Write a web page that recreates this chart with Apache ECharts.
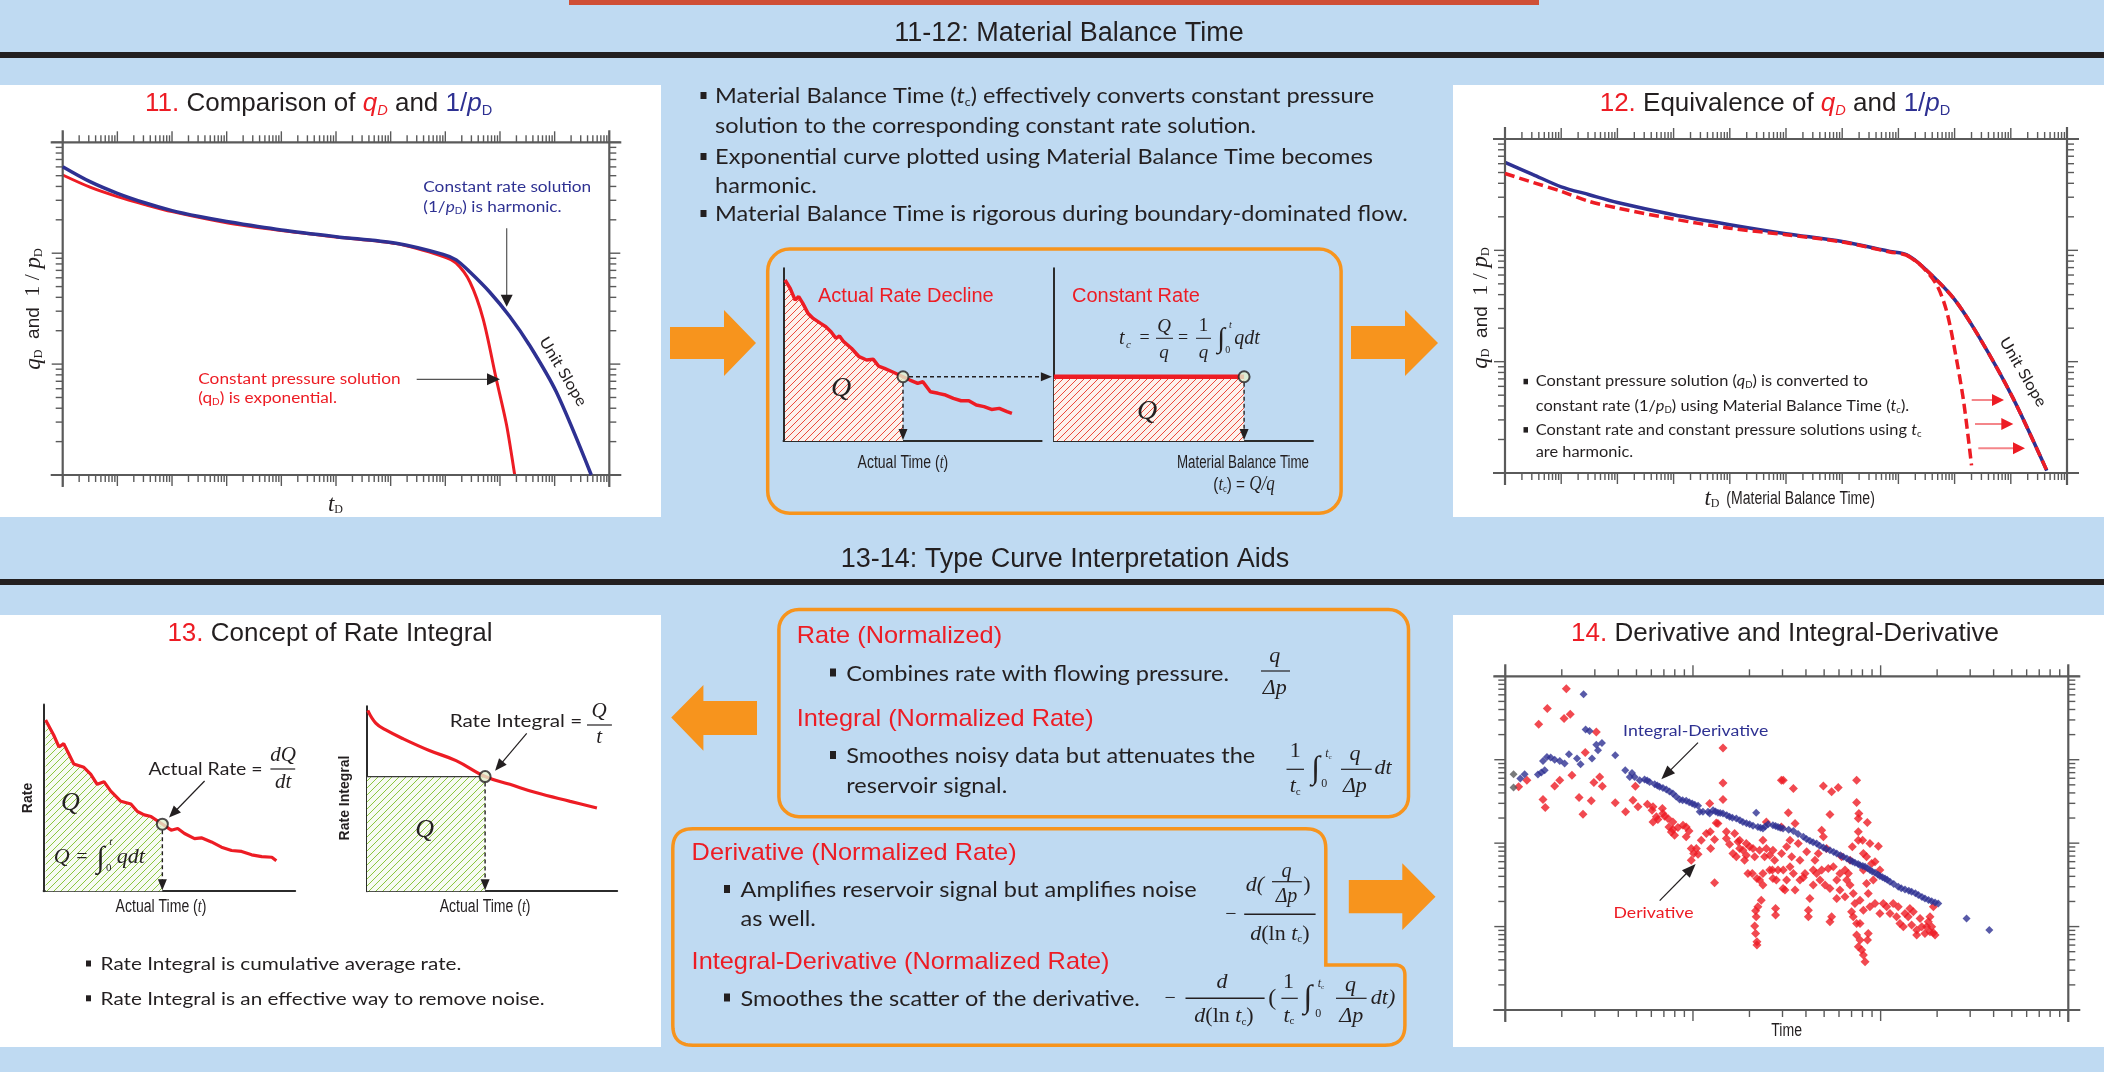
<!DOCTYPE html>
<html>
<head>
<meta charset="utf-8">
<title>Material Balance Time / Type Curve Interpretation Aids</title>
<script src="https://cdn.jsdelivr.net/npm/echarts@6/dist/echarts.min.js"></script>
<style>
html,body{margin:0;padding:0;background:#bfdaf2;overflow:hidden;}
#chart{width:2104px;height:1072px;}
</style>
</head>
<body>
<div id="chart"></div>
<script>
// ================= DATA =================
// 11. Comparison of qD and 1/pD (log-log; tD 1e-2..1e8, y 1e-3..1)
const p11RateT = [0.01,0.0316,0.1,0.316,1,3.16,10,100,1000,12600,91200,158000,282000,646000,1.51e6,3.47e6,1.07e7,4.68e7];
const p11RateY = [0.603,0.442,0.347,0.285,0.242,0.214,0.193,0.162,0.141,0.123,0.0977,0.0871,0.0676,0.0447,0.0269,0.0148,0.00562,0.001];
const p11PresT = [0.01,0.0316,0.1,0.316,1,10,100,1000,12600,91200,158000,282000,490000,851000,1.32e6,1.86e6];
const p11PresY = [0.507,0.394,0.324,0.275,0.237,0.188,0.160,0.140,0.122,0.0933,0.0813,0.055,0.0257,0.00741,0.00282,0.001];
// 12. Equivalence of qD and 1/pD
const p12RateT = [0.01,0.0316,0.1,0.316,1,10,100,1000,1e4,70800,141000,275000,955000,2.82e6,1.1e7,4.37e7];
const p12RateY = [0.617,0.479,0.372,0.316,0.269,0.209,0.170,0.141,0.120,0.0977,0.0912,0.0708,0.0372,0.0162,0.00468,0.00105];
const p12TcT   = [0.01,0.0316,0.1,0.316,1,10,100,1000,1e4,70800,141000,275000,955000,2.82e6,1.1e7,4.37e7];
const p12TcY   = [0.490,0.407,0.339,0.275,0.240,0.191,0.158,0.138,0.119,0.0966,0.0902,0.0708,0.0372,0.0162,0.00468,0.00105];
const p12ExpT  = [141000,245000,479000,724000,1.02e6,1.45e6,2.0e6];
const p12ExpY  = [0.0902,0.0741,0.049,0.0282,0.0123,0.00437,0.00117];
// 14. Derivative / Integral-Derivative, pairs of [log10(time), log10(value)]
const p14Derivative = [
[0.325,0.852],[0.224,0.613],[0.178,0.425],[0.313,0.493],[0.346,0.545],[0.071,-0.325],[0.115,-0.246],[0.263,-0.314],[0.290,-0.246],[0.201,-0.477],
[0.213,-0.573],[0.355,-0.186],[0.393,-0.453],[0.414,-0.653],[0.426,0.086],[0.458,-0.493],[0.472,-0.274],[0.503,-0.206],[0.517,-0.317],[0.485,0.333],
[0.586,-0.517],[0.641,-0.625],[0.680,-0.485],[0.693,-0.317],[0.757,-0.533],[0.782,-0.605],[0.805,-0.685],[0.837,-0.585],[0.849,-0.677],[0.867,-0.705],
[0.813,-0.717],[0.872,-0.805],[0.893,-0.837],[0.920,-0.813],[0.902,-0.904],[0.947,-0.785],[0.979,-0.853],[0.991,-1.064],[1.018,-1.064],[1.004,-1.124],
[1.027,-1.132],[0.991,-1.204],[1.092,-0.864],[1.115,-0.956],[1.124,-0.757],[1.094,-1.064],[1.115,-1.475],[1.160,0.142],[1.160,-0.278],[1.160,-0.477],
[1.133,-0.765],[1.178,-0.944],[1.195,-1.012],[1.222,-0.884],[1.240,-0.984],[1.249,-1.064],[1.266,-1.084],[1.284,-1.144],[1.302,-1.044],[1.329,-1.164],
[1.316,-1.363],[1.341,-1.423],[1.373,-1.503],[1.355,-1.084],[1.391,-1.064],[1.409,-1.144],[1.435,-1.204],[1.444,-1.443],[1.440,-1.783],[1.440,-1.862],
[1.364,-1.683],[1.346,-1.763],[1.334,-1.811],[1.337,-1.882],[1.329,-1.994],[1.334,-2.082],[1.341,-2.182],[1.341,-2.222],[1.471,-0.246],[1.480,-1.543],
[1.471,-0.805],[1.391,-0.745],[1.373,-0.964],[1.423,-1.323],[1.089,-0.525],[0.707,-0.565],[0.787,-0.745],[0.885,-0.865],[0.964,-0.924],[1.231,-1.164],
[1.275,-1.204],[1.426,-1.084],[1.453,-1.323],[1.373,-1.363],[1.293,-1.363],
[1.284,-1.004],[1.320,-1.064],[1.382,-1.164],[1.409,-1.323],[1.426,-1.423],[1.355,-1.443],[1.249,-0.964],[1.213,-1.124],[1.178,-0.864],[1.071,-0.884],
[1.044,-0.964],[0.964,-0.805],[0.893,-0.745],[0.840,-0.645],[0.787,-0.565],
[1.481,-0.246],[1.535,-0.345],[1.508,-0.637],[1.544,-0.765],[1.695,-0.314],[1.739,-0.385],[1.774,-0.333],[1.872,-0.246],[1.872,-0.513],[1.884,-0.645],
[1.881,-0.705],[1.929,-0.753],[1.904,-0.964],[1.881,-0.864],[1.988,-1.036],[1.849,-1.044],[1.730,-0.657],[1.686,-0.845],[1.695,-0.924],[1.712,-1.064],
[1.606,-1.104],[1.499,-1.044],[1.526,-1.164],[1.481,-1.323],[1.499,-1.443],[1.544,-1.563],[1.490,-1.563],[1.588,-1.411],[1.623,-1.663],[1.615,-1.803],
[1.615,-1.882],[1.641,-1.503],[1.659,-1.363],[1.677,-1.443],[1.721,-1.303],[1.748,-1.284],[1.730,-1.543],[1.766,-1.443],[1.766,-1.663],[1.739,-1.882],
[1.730,-1.942],[1.783,-1.363],[1.819,-1.443],[1.837,-1.503],[1.854,-1.603],[1.863,-1.723],[1.845,-1.823],[1.854,-1.882],[1.872,-1.962],[1.872,-2.102],
[1.890,-2.162],[1.899,-2.282],[1.908,-2.342],[1.917,-2.422],[1.934,-2.082],[1.943,-1.763],[1.970,-1.723],[1.996,-1.843],[2.014,-1.723],[2.032,-1.763],
[2.050,-1.843],[2.094,-1.763],[2.103,-1.962],[2.130,-1.843],[2.156,-1.783],[2.165,-1.982],[2.192,-2.042],[2.192,-2.102],[2.210,-1.902],[2.245,-2.002],
[2.263,-2.062],[2.281,-2.074],[2.263,-1.882],[2.281,-1.763],[1.890,-1.683],[1.934,-1.603],[1.961,-1.443],[1.908,-1.323],[1.925,-1.164],[1.952,-1.244],
[1.837,-1.204],[1.570,-1.443],[1.535,-1.363],[1.641,-1.323],
[1.517,-0.964],[1.561,-1.004],[1.472,-1.124],[1.517,-1.284],[1.570,-1.204],[1.597,-1.363],[1.650,-1.204],[1.668,-1.124],[1.686,-1.323],[1.704,-1.503],
[1.792,-1.164],[1.810,-1.323],[1.828,-1.363],[1.783,-1.563],[1.810,-1.643],[1.881,-0.964],[1.908,-1.124],[1.943,-1.004],[1.970,-1.224],[1.996,-1.323],
[1.925,-1.483],[1.908,-1.803],[1.890,-1.962],[1.930,-2.162],[1.881,-2.242],[2.067,-1.723],[2.085,-1.882],[2.121,-2.002],[2.147,-1.882],[2.174,-1.823],
[2.219,-2.002],[2.236,-2.082],[2.272,-2.002],[2.290,-2.102],[2.254,-1.942]
];
const p14IntegralDerivative = [
[0.417,0.784],[0.428,0.361],[0.449,0.345],[0.485,0.181],[0.515,0.201],[0.494,0.114],[0.462,0.014],[0.401,-0.054],[0.382,0.014],[0.339,0.065],
[0.316,-0.046],[0.290,-0.015],[0.263,0.000],[0.242,0.026],[0.222,0.034],[0.201,-0.015],[0.210,-0.126],[0.192,-0.154],[0.174,-0.178],[0.103,-0.174],
[0.080,-0.226],[0.586,0.054],[0.639,-0.126],[0.675,-0.158],[0.689,-0.206],[0.663,-0.206],[0.716,-0.246],[0.742,-0.238],[0.769,-0.266],[0.796,-0.294],
[0.822,-0.325],[0.858,-0.357],[0.893,-0.405],[0.929,-0.477],[0.964,-0.493],[0.996,-0.525],[1.027,-0.553],[1.036,-0.625],[1.053,-0.625],[1.080,-0.625],
[1.089,-0.645],[1.107,-0.605],[1.133,-0.637],[1.160,-0.645],[1.195,-0.685],[1.231,-0.705],[1.266,-0.745],[1.302,-0.773],[1.337,-0.637],[1.346,-0.805],
[1.373,-0.825],[1.400,-0.773],[1.426,-0.785],[1.453,-0.805],[1.480,-0.825],
[0.756,-0.25],[0.81,-0.31],[0.84,-0.34],[0.875,-0.38],[0.91,-0.44],[0.945,-0.485],[0.98,-0.51],[1.01,-0.54],[1.12,-0.62],[1.145,-0.64],
[1.18,-0.665],[1.21,-0.695],[1.25,-0.725],[1.285,-0.76],[1.32,-0.79],[1.36,-0.815],[1.385,-0.80],[1.44,-0.795],[1.465,-0.815],[1.51,-0.84],
[1.535,-0.853],[1.56,-0.89],[1.588,-0.924],[1.605,-0.95],[1.623,-0.972],[1.64,-0.99],[1.659,-1.004],[1.675,-1.03],[1.695,-1.052],[1.71,-1.07],
[1.730,-1.084],[1.75,-1.105],[1.766,-1.124],[1.785,-1.145],[1.801,-1.164],[1.82,-1.185],[1.837,-1.204],[1.85,-1.22],[1.863,-1.236],[1.88,-1.25],
[1.890,-1.264],[1.905,-1.275],[1.917,-1.284],[1.93,-1.30],[1.943,-1.323],[1.955,-1.34],[1.970,-1.355],[1.985,-1.375],[1.996,-1.395],[2.01,-1.41],
[2.023,-1.423],[2.035,-1.44],[2.050,-1.463],[2.07,-1.49],[2.094,-1.523],[2.11,-1.54],[2.130,-1.555],[2.15,-1.57],[2.165,-1.583],[2.185,-1.60],
[2.201,-1.623],[2.22,-1.645],[2.236,-1.663],[2.255,-1.68],[2.272,-1.695],[2.29,-1.71],[2.307,-1.723],[2.458,-1.902],[2.579,-2.042]
];
const p14Early = [[0.044,-0.174],[0.044,-0.332]];
// 13. Concept of Rate Integral (schematic, arbitrary 0..100 units)
const p13RateX = [0.8,4.0,6.1,8.0,9.3,12.0,16.0,18.7,21.3,24.0,26.7,30.7,34.7,37.3,40.0,42.7,46.7,50.7,53.3,56.0,60.0,62.7,66.7,70.7,74.7,78.7,82.7,86.7,90.7,92.5];
const p13RateY = [91.7,83.7,77.3,79.1,75.5,68.2,66.4,62.8,57.3,58.7,53.6,48.2,46.7,42.7,40.9,40.0,36.4,32.7,33.6,30.9,28.2,28.6,26.4,23.6,21.8,21.3,19.5,18.5,18.2,16.3];
const p13RatePoint = [47.2, 35.9];
const p13IntX = [0.3,3.5,7.5,14.2,24.9,35.6,47.2,57.1,67.8,81.2,91.9];
const p13IntY = [97.8,90.9,87.2,82.6,76.1,70.6,62.0,57.8,53.2,48.6,45.0];
const p13IntPoint = [47.2, 62.0];
// Middle diagram: actual rate decline vs constant rate
const mbRateX = [0.6,2.6,4.5,5.9,7.5,9.5,11.5,14.4,16.4,18.4,20.3,21.7,23.3,26.3,29.3,32.2,34.8,36.8,39.1,42.1,46.3,49.0,52.0,54.0,56.9,59.9,62.8,65.8,68.8,71.8,74.7,77.7,80.6,83.6,86.6,88.5];
const mbRateY = [93.2,88.4,81.6,83.6,79.7,73.9,71.0,68.1,66.2,63.3,59.5,60.8,57.5,53.7,48.8,46.9,47.3,43.4,42.1,40.1,37.2,35.3,33.4,34.3,28.5,27.6,26.6,24.7,23.3,23.3,20.8,19.9,18.3,18.9,17.0,16.0];
const mbPoint = [46.3, 37.2];
const mbConstX = [0, 73.4];
const mbConstY = [37.2, 37.2];

// ================= STYLE CONSTANTS =================
const RED = '#ed1c24', BLUE = '#2e3192', K = '#231f20', ORANGE = '#f7941d', BG = '#bfdaf2';
const SANS = "'Liberation Sans', Arial, sans-serif";
const BODY = "Lato, 'Open Sans', sans-serif";
const SERIF = "'Liberation Serif', 'Times New Roman', serif";
const A = s => s + 'px ' + SANS, AI = s => 'italic ' + s + 'px ' + SANS, AB = s => 'bold ' + s + 'px ' + SANS;
const B = s => s + 'px ' + BODY, BI = s => 'italic ' + s + 'px ' + BODY;
const S = s => s + 'px ' + SERIF, SI = s => 'italic ' + s + 'px ' + SERIF;
const WIDE = {scaleX: 1.12};   // body text is a wide geometric face in the original
const TITLE = {scaleX: 1.04};
const HEAD = {scaleX: 1.055};

const zip = (a, b) => a.map((v, i) => [v, b[i]]);
const fromLog = arr => arr.map(p => [Math.pow(10, p[0]), Math.pow(10, p[1])]);

function hatch(bg, fg, step, lw) {
  const c = document.createElement('canvas'); c.width = step; c.height = step;
  const x = c.getContext('2d');
  x.fillStyle = bg; x.fillRect(0, 0, step, step);
  x.strokeStyle = fg; x.lineWidth = lw;
  x.beginPath();
  x.moveTo(-1, step + 1); x.lineTo(step + 1, -1);
  x.moveTo(-2, 2); x.lineTo(2, -2);
  x.moveTo(step - 2, step + 2); x.lineTo(step + 2, step - 2);
  x.stroke();
  return c;
}
const greenHatch = hatch('#f7fbf2', '#8cc63f', 7, 1);
const redHatch = hatch('#fdf1ec', '#ec4a3a', 7, 1);

// ================= GRIDS & AXES =================
const grids = [
  {left: 62.7, top: 142.3, width: 546.6, height: 332.7},   // 11
  {left: 1505, top: 139, width: 562, height: 334},         // 12
  {left: 1505.3, top: 676.3, width: 563, height: 333.7},   // 14
  {left: 43.6, top: 704.6, width: 251.6, height: 186.6},   // 13 left
  {left: 367, top: 706.3, width: 250.2, height: 184.9},    // 13 right
  {left: 783.5, top: 268.3, width: 258.1, height: 172.7},  // middle left
  {left: 1053.9, top: 268.3, width: 259.1, height: 172.7}  // middle right
];
const logRanges = [
  {x: [1e-2, 1e8], y: [1e-3, 1]},
  {x: [1e-2, 1e8], y: [1e-3, 1]},
  {x: [1, 1000], y: [1e-3, 10]}
];
const xAxis = [], yAxis = [];
logRanges.forEach((r, i) => {
  xAxis.push({type: 'log', logBase: 10, gridIndex: i, min: r.x[0], max: r.x[1], show: false});
  yAxis.push({type: 'log', logBase: 10, gridIndex: i, min: r.y[0], max: r.y[1], show: false});
});
function schemAxis(i) {
  return {type: 'value', gridIndex: i, min: 0, max: 100,
    axisLine: {show: true, onZero: false, lineStyle: {color: '#2b2b2b', width: 2}},
    axisTick: {show: false}, axisLabel: {show: false}, splitLine: {show: false}};
}
for (let i = 3; i < 7; i++) { xAxis.push(schemAxis(i)); yAxis.push(schemAxis(i)); }

function logTicks(lo, hi) {
  const out = [];
  const e0 = Math.round(Math.log10(lo)), e1 = Math.round(Math.log10(hi));
  for (let e = e0; e <= e1; e++) {
    const base = Math.pow(10, e);
    out.push([base, 1]);
    if (e < e1) for (let k = 2; k <= 9; k++) out.push([k * base, 0]);
  }
  return out;
}
function tickSeries(gi) {
  const r = logRanges[gi];
  const data = [];
  logTicks(r.x[0], r.x[1]).forEach(t => { data.push([t[0], r.y[0], 0, t[1]]); data.push([t[0], r.y[0], 1, t[1]]); });
  logTicks(r.y[0], r.y[1]).forEach(t => { data.push([r.x[0], t[0], 2, t[1]]); data.push([r.x[0], t[0], 3, t[1]]); });
  data.push([r.x[0], r.y[0], 4, 0]);
  return {
    type: 'custom', coordinateSystem: 'cartesian2d', xAxisIndex: gi, yAxisIndex: gi,
    silent: true, clip: false, z: 4, encode: {x: 0, y: 1}, data: data,
    renderItem: function (params, api) {
      const kind = api.value(2), major = api.value(3);
      const Ln = major ? 11 : 7;
      const st = {stroke: '#5a5a5a', lineWidth: 1.4};
      const bl = api.coord([r.x[0], r.y[0]]), tr = api.coord([r.x[1], r.y[1]]);
      if (kind === 0 || kind === 1) {
        const px = api.coord([api.value(0), r.y[0]])[0];
        const y0 = kind === 0 ? bl[1] : tr[1], d = kind === 0 ? 1 : -1;
        return {type: 'line', shape: {x1: px, y1: y0, x2: px, y2: y0 + d * Ln}, style: st};
      }
      if (kind === 2 || kind === 3) {
        const py = api.coord([r.x[0], api.value(1)])[1];
        const x0 = kind === 2 ? bl[0] : tr[0], d = kind === 2 ? -1 : 1;
        return {type: 'line', shape: {x1: x0, y1: py, x2: x0 + d * Ln, y2: py}, style: st};
      }
      const E = 12, fs = {stroke: '#5a5a5a', lineWidth: 2.2};
      return {type: 'group', children: [
        {type: 'line', shape: {x1: bl[0] - E, y1: bl[1], x2: tr[0] + E, y2: bl[1]}, style: fs},
        {type: 'line', shape: {x1: bl[0] - E, y1: tr[1], x2: tr[0] + E, y2: tr[1]}, style: fs},
        {type: 'line', shape: {x1: bl[0], y1: bl[1] + E, x2: bl[0], y2: tr[1] - E}, style: fs},
        {type: 'line', shape: {x1: tr[0], y1: bl[1] + E, x2: tr[0], y2: tr[1] - E}, style: fs}
      ]};
    }
  };
}

const pointStyle = {color: '#e4f1cf', borderColor: K, borderWidth: 2};
const p13AreaPts = zip(p13RateX, p13RateY).filter(p => p[0] < p13RatePoint[0]).concat([p13RatePoint]);
const mbAreaPts = zip(mbRateX, mbRateY).filter(p => p[0] < mbPoint[0]).concat([mbPoint]);
const SM = 0.3;

const series = [
  tickSeries(0), tickSeries(1), tickSeries(2),
  // 11
  {type: 'line', name: 'qD constant pressure', xAxisIndex: 0, yAxisIndex: 0, data: zip(p11PresT, p11PresY),
   symbol: 'none', smooth: SM, lineStyle: {color: RED, width: 3}, z: 3},
  {type: 'line', name: '1/pD constant rate', xAxisIndex: 0, yAxisIndex: 0, data: zip(p11RateT, p11RateY),
   symbol: 'none', smooth: SM, lineStyle: {color: BLUE, width: 3.5}, z: 4},
  // 12
  {type: 'line', name: '1/pD', xAxisIndex: 1, yAxisIndex: 1, data: zip(p12RateT, p12RateY),
   symbol: 'none', smooth: SM, lineStyle: {color: BLUE, width: 3.5}, z: 3},
  {type: 'line', name: 'qD vs tc', xAxisIndex: 1, yAxisIndex: 1, data: zip(p12TcT, p12TcY),
   symbol: 'none', smooth: SM, lineStyle: {color: RED, width: 3.5, type: [10, 5]}, z: 4},
  {type: 'line', name: 'qD vs t', xAxisIndex: 1, yAxisIndex: 1, data: zip(p12ExpT, p12ExpY),
   symbol: 'none', smooth: SM, lineStyle: {color: RED, width: 3.5, type: [10, 5]}, z: 4},
  // 14
  {type: 'scatter', name: 'Derivative', xAxisIndex: 2, yAxisIndex: 2, data: fromLog(p14Derivative),
   symbol: 'diamond', symbolSize: 9, itemStyle: {color: RED}, z: 3},
  {type: 'scatter', name: 'Integral-Derivative', xAxisIndex: 2, yAxisIndex: 2, data: fromLog(p14IntegralDerivative),
   symbol: 'diamond', symbolSize: 8, itemStyle: {color: BLUE}, z: 4},
  {type: 'scatter', name: 'early', xAxisIndex: 2, yAxisIndex: 2, data: fromLog(p14Early),
   symbol: 'diamond', symbolSize: 8, itemStyle: {color: '#58595b'}, z: 4},
  // 13 left
  {type: 'line', xAxisIndex: 3, yAxisIndex: 3, data: p13AreaPts, symbol: 'none',
   lineStyle: {opacity: 0}, areaStyle: {color: {image: greenHatch, repeat: 'repeat'}, opacity: 1}, z: 2},
  {type: 'line', xAxisIndex: 3, yAxisIndex: 3, data: zip(p13RateX, p13RateY), symbol: 'none',
   lineStyle: {color: RED, width: 3.2}, z: 3},
  {type: 'scatter', xAxisIndex: 3, yAxisIndex: 3, data: [p13RatePoint], symbol: 'circle', symbolSize: 11, itemStyle: pointStyle, z: 10},
  // 13 right
  {type: 'line', xAxisIndex: 4, yAxisIndex: 4, data: [[0, p13IntPoint[1]], p13IntPoint], symbol: 'none',
   lineStyle: {color: '#3a3a3a', width: 1.2}, areaStyle: {color: {image: greenHatch, repeat: 'repeat'}, opacity: 1}, z: 2},
  {type: 'line', xAxisIndex: 4, yAxisIndex: 4, data: zip(p13IntX, p13IntY), symbol: 'none', smooth: 0.4,
   lineStyle: {color: RED, width: 3.2}, z: 3},
  {type: 'scatter', xAxisIndex: 4, yAxisIndex: 4, data: [p13IntPoint], symbol: 'circle', symbolSize: 11, itemStyle: pointStyle, z: 10},
  // middle left
  {type: 'line', xAxisIndex: 5, yAxisIndex: 5, data: mbAreaPts, symbol: 'none',
   lineStyle: {opacity: 0}, areaStyle: {color: {image: redHatch, repeat: 'repeat'}, opacity: 1}, z: 2},
  {type: 'line', xAxisIndex: 5, yAxisIndex: 5, data: zip(mbRateX, mbRateY), symbol: 'none',
   lineStyle: {color: RED, width: 3.5}, z: 3},
  {type: 'scatter', xAxisIndex: 5, yAxisIndex: 5, data: [mbPoint], symbol: 'circle', symbolSize: 11, itemStyle: pointStyle, z: 10},
  // middle right
  {type: 'line', xAxisIndex: 6, yAxisIndex: 6, data: zip(mbConstX, mbConstY), symbol: 'none',
   lineStyle: {color: RED, width: 4.5}, areaStyle: {color: {image: redHatch, repeat: 'repeat'}, opacity: 1}, z: 3},
  {type: 'scatter', xAxisIndex: 6, yAxisIndex: 6, data: [[mbConstX[1], mbConstY[1]]], symbol: 'circle', symbolSize: 11, itemStyle: pointStyle, z: 10}
];

const chart = echarts.init(document.getElementById('chart'), null, {renderer: 'canvas', width: 2104, height: 1072});
chart.setOption({
  animation: false,
  backgroundColor: BG,
  grid: grids.map(g => Object.assign({containLabel: false, show: false}, g)),
  xAxis: xAxis, yAxis: yAxis, series: series
});

// ================= ANNOTATION GRAPHICS =================
const G = [];
const mctx = document.createElement('canvas').getContext('2d');
function tw(font, s) { mctx.font = font; return mctx.measureText(s).width; }
function tstyle(text, font, fill, align) {
  return {text: text, font: font, fill: fill, textAlign: align || 'left', align: align || 'left',
          textVerticalAlign: 'middle', verticalAlign: 'middle'};
}
function T(x, y, text, font, fill, align, extra) {
  G.push(Object.assign({type: 'text', x: x, y: y, z: 60, silent: true, style: tstyle(text, font, fill, align)}, extra || {}));
}
function Rt(x, y, toks, align, extra) {
  const ws = toks.map(t => tw(t[1], t[0]));
  const tot = ws.reduce((a, b) => a + b, 0);
  let cx = align === 'center' ? -tot / 2 : (align === 'right' ? -tot : 0);
  const children = toks.map((t, i) => {
    const e = {type: 'text', x: cx, y: t[3] || 0, z: 60, silent: true, style: tstyle(t[0], t[1], t[2], 'left')};
    cx += ws[i]; return e;
  });
  G.push(Object.assign({type: 'group', x: x, y: y, z: 60, silent: true, children: children}, extra || {}));
}
function Rect(x, y, w, h, fill, z) {
  G.push({type: 'rect', z: z || 0, silent: true, shape: {x: x, y: y, width: w, height: h}, style: {fill: fill}});
}
function Ln(x1, y1, x2, y2, stroke, lw, dash) {
  G.push({type: 'line', z: 60, silent: true, shape: {x1: x1, y1: y1, x2: x2, y2: y2},
          style: {stroke: stroke, lineWidth: lw, lineDash: dash || null}});
}
function arrow(x1, y1, x2, y2, o) {
  o = o || {};
  const hl = o.hl || 12, hw = o.hw || 10, col = o.color || K, sc = o.shaft || col, lw = o.lw || 1.3;
  const dx = x2 - x1, dy = y2 - y1, L = Math.hypot(dx, dy), ux = dx / L, uy = dy / L;
  const bx = x2 - ux * hl, by = y2 - uy * hl;
  G.push({type: 'line', z: 60, silent: true, shape: {x1: x1, y1: y1, x2: bx + ux, y2: by + uy},
          style: {stroke: sc, lineWidth: lw, lineDash: o.dash || null}});
  G.push({type: 'polygon', z: 61, silent: true,
          shape: {points: [[x2, y2], [bx - uy * hw / 2, by + ux * hw / 2], [bx + uy * hw / 2, by - ux * hw / 2]]},
          style: {fill: col}});
}
function poly(points, fill, z) { G.push({type: 'polygon', z: z || 5, silent: true, shape: {points: points}, style: {fill: fill}}); }
function roundPoly(pts, rads) {
  const out = [], n = pts.length;
  for (let i = 0; i < n; i++) {
    const p0 = pts[(i - 1 + n) % n], p1 = pts[i], p2 = pts[(i + 1) % n], r = rads[i];
    if (!r) { out.push(p1); continue; }
    const l1 = Math.hypot(p0[0] - p1[0], p0[1] - p1[1]), l2 = Math.hypot(p2[0] - p1[0], p2[1] - p1[1]);
    const a = [p1[0] + (p0[0] - p1[0]) / l1 * r, p1[1] + (p0[1] - p1[1]) / l1 * r];
    const b = [p1[0] + (p2[0] - p1[0]) / l2 * r, p1[1] + (p2[1] - p1[1]) / l2 * r];
    for (let k = 0; k <= 10; k++) {
      const t = k / 10;
      out.push([(1 - t) * (1 - t) * a[0] + 2 * (1 - t) * t * p1[0] + t * t * b[0],
                (1 - t) * (1 - t) * a[1] + 2 * (1 - t) * t * p1[1] + t * t * b[1]]);
    }
  }
  return out;
}
const P = (gi, pt) => chart.convertToPixel({gridIndex: gi}, pt);

// ---- backgrounds ----
Rect(569, 0, 970, 5, '#cf4f36');
Rect(0, 52, 2104, 6, K);
Rect(0, 579, 2104, 6, K);
Rect(0, 85, 661, 432, '#ffffff');
Rect(1453, 85, 651, 432, '#ffffff');
Rect(0, 615, 661, 432, '#ffffff');
Rect(1453, 615, 651, 432, '#ffffff');

// ---- section headings ----
T(1069, 34, '11-12: Material Balance Time', A(27), K, 'center');
T(1065, 560, '13-14: Type Curve Interpretation Aids', A(27), K, 'center');

// ---- panel titles ----
Rt(318.6, 104, [['11. ', A(25), RED], ['Comparison of ', A(25), K], ['q', AI(25), RED], ['D', AI(14), RED, 7],
  [' and ', A(25), K], ['1/', A(25), BLUE], ['p', AI(25), BLUE], ['D', A(14), BLUE, 7]], 'center', TITLE);
Rt(1775, 104, [['12. ', A(25), RED], ['Equivalence of ', A(25), K], ['q', AI(25), RED], ['D', AI(14), RED, 7],
  [' and ', A(25), K], ['1/', A(25), BLUE], ['p', AI(25), BLUE], ['D', A(14), BLUE, 7]], 'center', TITLE);
Rt(330, 634.3, [['13. ', A(25), RED], ['Concept of Rate Integral', A(25), K]], 'center', TITLE);
Rt(1785, 634.3, [['14. ', A(25), RED], ['Derivative and Integral-Derivative', A(25), K]], 'center', TITLE);

// ---- panel 11 & 12 axis labels ----
const yLab = [['q', SI(23), K], ['D', S(12), K, 5], ['  and  ', A(19), K], ['1 / ', S(22), K], ['p', SI(23), K], ['D', S(12), K, 5]];
Rt(33.5, 309, yLab, 'center', {rotation: Math.PI / 2});
Rt(1481.3, 308, yLab, 'center', {rotation: Math.PI / 2});
Rt(335.5, 504.5, [['t', SI(23), K], ['D', S(12), K, 5]], 'center');
Rt(1712, 499.3, [['t', SI(23), K], ['D', S(12), K, 5]], 'center');
T(1726.3, 499.3, '(Material Balance Time)', A(18), K, 'left', {scaleX: 0.78});

// ---- panel 11 annotations ----
Rt(423.3, 187.3, [['Constant rate solution', B(15.5), BLUE]], 'left', {scaleX: 1.11});
Rt(423.3, 207.3, [['(1/', B(15.5), BLUE], ['p', BI(15.5), BLUE], ['D', B(9), BLUE, 4], [') is harmonic.', B(15.5), BLUE]], 'left', {scaleX: 1.11});
arrow(506.7, 228.3, 506.7, 306.7, {hl: 12, hw: 12, lw: 1.2, shaft: '#555'});
Rt(198.3, 379, [['Constant pressure solution', B(15.5), RED]], 'left', {scaleX: 1.11});
Rt(198.3, 398.3, [['(q', B(15.5), RED], ['D', B(9), RED, 4], [') is exponential.', B(15.5), RED]], 'left', {scaleX: 1.11});
arrow(416.7, 379.3, 500, 379.3, {hl: 13, hw: 12, lw: 1.2, shaft: '#555'});
T(563, 371.5, 'Unit Slope', B(15.5), K, 'center', {rotation: -1.03, scaleX: 1.1});

// ---- panel 12 annotations ----
const P12 = {scaleX: 1.13};
Rect(1523.5, 378.8, 4.5, 5.5, K, 60);
Rt(1535.7, 381.7, [['Constant pressure solution (', B(14.5), K], ['q', BI(14.5), K], ['D', B(8.5), K, 4], [') is converted to', B(14.5), K]], 'left', P12);
Rt(1535.7, 406.3, [['constant rate (1/', B(14.5), K], ['p', BI(14.5), K], ['D', B(8.5), K, 4], [') using Material Balance Time (', B(14.5), K],
  ['t', BI(14.5), K], ['c', B(8.5), K, 4], [').', B(14.5), K]], 'left', P12);
Rect(1523.5, 427.1, 4.5, 5.5, K, 60);
Rt(1535.7, 430, [['Constant rate and constant pressure solutions using ', B(14.5), K], ['t', BI(14.5), K], ['c', B(8.5), K, 4]], 'left', P12);
Rt(1535.7, 452.3, [['are harmonic.', B(14.5), K]], 'left', P12);
T(2023, 372, 'Unit Slope', B(15.5), K, 'center', {rotation: -1.04, scaleX: 1.1});
arrow(1971.7, 400, 2004, 400, {color: RED, shaft: '#f4868a', lw: 2, hl: 12, hw: 12});
arrow(1975, 424, 2013.3, 424, {color: RED, shaft: '#f4868a', lw: 2, hl: 12, hw: 12});
arrow(1978.3, 448.3, 2025, 448.3, {color: RED, shaft: '#f4868a', lw: 2, hl: 12, hw: 12});

// ---- panel 14 annotations ----
T(1695.7, 730.7, 'Integral-Derivative', B(15.5), BLUE, 'center', {scaleX: 1.14});
arrow(1698, 742.7, 1661.3, 779.3, {hl: 14, hw: 11, lw: 1.2});
T(1653.5, 912.7, 'Derivative', B(15.5), RED, 'center', {scaleX: 1.14});
arrow(1659.7, 900.7, 1695.7, 864, {hl: 14, hw: 11, lw: 1.2});
T(1786.6, 1031, 'Time', A(18), K, 'center', {scaleX: 0.78});

// ---- panel 13 ----
T(28.2, 798, 'Rate', AB(14), K, 'center', {rotation: Math.PI / 2});
T(345.5, 798, 'Rate Integral', AB(14), K, 'center', {rotation: Math.PI / 2});
Rt(161, 907, [['Actual Time (', A(18), K], ['t', SI(18), K], [')', A(18), K]], 'center', {scaleX: 0.78});
Rt(485.1, 907, [['Actual Time (', A(18), K], ['t', SI(18), K], [')', A(18), K]], 'center', {scaleX: 0.78});
T(70.4, 803, 'Q', SI(26), K, 'center');
T(424.7, 830.1, 'Q', SI(26), K, 'center');
T(61.7, 857.3, 'Q', SI(22), K, 'center');
T(81.9, 857.3, '=', S(20), K, 'center');
T(100.6, 859, '\u222B', S(30), K, 'center');
T(110.7, 842, 't', SI(11), K, 'center');
T(108.7, 868.5, '0', S(11), K, 'center');
T(130.8, 857.3, 'qdt', SI(22), K, 'center');
T(205.5, 769, 'Actual Rate =', B(18), K, 'center', {scaleX: 1.08});
T(283.1, 755.5, 'dQ', SI(21), K, 'center');
Ln(270.4, 769, 295.2, 769, K, 1.2);
T(283.1, 782.6, 'dt', SI(21), K, 'center');
arrow(204.6, 781, 169, 817.6, {hl: 12, hw: 10, lw: 1.2});
T(515.9, 721.5, 'Rate Integral =', B(18), K, 'center', {scaleX: 1.15});
T(599.1, 711.4, 'Q', SI(21), K, 'center');
Ln(587, 725, 611.9, 725, K, 1.2);
T(599.1, 737, 't', SI(21), K, 'center');
arrow(526.7, 733.4, 495.1, 770.7, {hl: 12, hw: 10, lw: 1.2});
Rect(86, 960.5, 5, 6, K, 60);
T(100.6, 964.2, 'Rate Integral is cumulative average rate.', B(18), K, 'left', {scaleX: 1.15});
Rect(86, 995.3, 5, 6, K, 60);
T(100.6, 998.8, 'Rate Integral is an effective way to remove noise.', B(18), K, 'left', {scaleX: 1.15});
// dashed drop arrows
(function () {
  let a = P(3, p13RatePoint), b = P(3, [p13RatePoint[0], 0]);
  arrow(a[0], a[1] + 6, b[0], b[1] - 1, {dash: [4, 3], hl: 11, hw: 9, lw: 1.4});
  a = P(4, p13IntPoint); b = P(4, [p13IntPoint[0], 0]);
  arrow(a[0], a[1] + 6, b[0], b[1] - 1, {dash: [4, 3], hl: 11, hw: 9, lw: 1.4});
  a = P(5, mbPoint); b = P(5, [mbPoint[0], 0]);
  arrow(a[0], a[1] + 6, b[0], b[1] - 1, {dash: [4, 3], hl: 11, hw: 9, lw: 1.4});
  const c = P(6, [0, mbPoint[1]]);
  arrow(a[0] + 6, a[1], c[0] - 2, c[1], {dash: [4, 3], hl: 11, hw: 9, lw: 1.4});
  a = P(6, [mbConstX[1], mbConstY[1]]); b = P(6, [mbConstX[1], 0]);
  arrow(a[0], a[1] + 6, b[0], b[1] - 1, {dash: [4, 3], hl: 11, hw: 9, lw: 1.4});
})();

// ---- middle section 1 ----
Rect(700.5, 92, 6, 7, K, 60);
Rt(715.1, 96, [['Material Balance Time (', B(21), K], ['t', BI(21), K], ['c', B(11), K, 6], [') effectively converts constant pressure', B(21), K]], 'left', WIDE);
T(715.1, 126.7, 'solution to the corresponding constant rate solution.', B(21), K, 'left', WIDE);
Rect(700.5, 153, 6, 7, K, 60);
T(715.1, 157.3, 'Exponential curve plotted using Material Balance Time becomes', B(21), K, 'left', WIDE);
T(715.1, 186, 'harmonic.', B(21), K, 'left', WIDE);
Rect(700.5, 210, 6, 7, K, 60);
T(715.1, 214, 'Material Balance Time is rigorous during boundary-dominated flow.', B(21), K, 'left', WIDE);
G.push({type: 'rect', z: 5, silent: true, shape: {x: 767.7, y: 249, width: 573.4, height: 264.3, r: 22},
        style: {fill: 'none', stroke: ORANGE, lineWidth: 3.5}});
T(818, 296, 'Actual Rate Decline', A(20), RED, 'left');
T(1072, 296, 'Constant Rate', A(20), RED, 'left');
T(841.1, 388.3, 'Q', SI(28), K, 'center');
T(1147.2, 411.7, 'Q', SI(28), K, 'center');
Rt(902.9, 463.3, [['Actual Time (', A(18), K], ['t', SI(18), K], [')', A(18), K]], 'center', {scaleX: 0.78});
T(1243, 463.3, 'Material Balance Time', A(18), K, 'center', {scaleX: 0.74});
Rt(1244, 485, [['(', A(18), K], ['t', SI(19), K], ['c', S(10), K, 4], [') = ', A(18), K], ['Q', SI(20), K], ['/', SI(20), K], ['q', SI(20), K]], 'center', {scaleX: 0.85});
// formula tc = Q/q = 1/q int q dt
T(1121.7, 338.3, 't', SI(20), K, 'center');
T(1128.4, 345, 'c', SI(11), K, 'center');
T(1144.7, 338.3, '=', S(18), K, 'center');
T(1164, 326.5, 'Q', SI(19), K, 'center');
Ln(1156, 338.3, 1173, 338.3, K, 1);
T(1164, 352.5, 'q', SI(19), K, 'center');
T(1183, 338.3, '=', S(18), K, 'center');
T(1203.4, 326.5, '1', S(19), K, 'center');
Ln(1196, 338.3, 1211, 338.3, K, 1);
T(1203.4, 352.5, 'q', SI(19), K, 'center');
T(1221.2, 340, '\u222B', S(28), K, 'center');
T(1230.4, 325, 't', SI(10), K, 'center');
T(1227.8, 350, '0', S(10), K, 'center');
T(1247, 339, 'qdt', SI(20), K, 'center');
// orange arrows
poly([[670, 327], [724, 327], [724, 310], [756, 343], [724, 376], [724, 359], [670, 359]], ORANGE);
poly([[1351, 326], [1405, 326], [1405, 310], [1438, 343], [1405, 376], [1405, 359], [1351, 359]], ORANGE);

// ---- middle section 2 ----
G.push({type: 'rect', z: 5, silent: true, shape: {x: 778.9, y: 609.5, width: 629.6, height: 207.2, r: 20},
        style: {fill: 'none', stroke: ORANGE, lineWidth: 3.5}});
G.push({type: 'polygon', z: 5, silent: true,
        shape: {points: roundPoly([[672.8, 828.7], [1325.8, 828.7], [1325.8, 965], [1404.9, 965], [1404.9, 1045.3], [672.8, 1045.3]], [20, 20, 0, 10, 20, 20])},
        style: {fill: 'none', stroke: ORANGE, lineWidth: 3.5}});
poly([[757, 701], [703.4, 701], [703.4, 685], [671.2, 717.5], [703.4, 750.7], [703.4, 735], [757, 735]], ORANGE);
poly([[1348.8, 880], [1402.3, 880], [1402.3, 863.3], [1435.5, 896.7], [1402.3, 930], [1402.3, 913.3], [1348.8, 913.3]], ORANGE);

T(796.7, 636.7, 'Rate (Normalized)', A(24), RED, 'left', HEAD);
Rect(830, 668.5, 6, 8, K, 60);
T(846.2, 674, 'Combines rate with flowing pressure.', B(21), K, 'left', WIDE);
T(1274.8, 656.7, 'q', SI(22), K, 'center');
Ln(1261, 671, 1290, 671, K, 1.2);
T(1274.8, 688.3, '\u0394p', SI(22), K, 'center');

T(796.7, 719.3, 'Integral (Normalized Rate)', A(24), RED, 'left', HEAD);
Rect(830, 751, 6, 8, K, 60);
T(846.2, 756.7, 'Smoothes noisy data but attenuates the', B(21), K, 'left', WIDE);
T(846.2, 786.7, 'reservoir signal.', B(21), K, 'left', WIDE);
T(1295.2, 751.7, '1', S(22), K, 'center');
Ln(1286.5, 769.3, 1304, 769.3, K, 1.2);
Rt(1295.2, 786.7, [['t', SI(22), K], ['c', S(11), K, 5]], 'center');
T(1315.6, 770, '\u222B', S(32), K, 'center');
Rt(1328.4, 754, [['t', SI(12), K], ['c', S(7), K, 3]], 'center');
T(1324.3, 784, '0', S(12), K, 'center');
T(1354.9, 754, 'q', SI(22), K, 'center');
Ln(1341, 769.3, 1371.7, 769.3, K, 1.2);
T(1354.9, 786.7, '\u0394p', SI(22), K, 'center');
T(1383, 768.3, 'dt', SI(22), K, 'center');

T(691.6, 853.3, 'Derivative (Normalized Rate)', A(24), RED, 'left', HEAD);
Rect(724, 885, 6, 8, K, 60);
T(740.6, 890.7, 'Amplifies reservoir signal but amplifies noise', B(21), K, 'left', WIDE);
T(740.6, 919.3, 'as well.', B(21), K, 'left', WIDE);
T(1231, 914.3, '\u2212', S(20), K, 'center');
T(1255, 885, 'd(', SI(22), K, 'center');
T(1286.5, 871.5, 'q', SI(20), K, 'center');
Ln(1272, 881.7, 1301.8, 881.7, K, 1.2);
T(1286.5, 896.5, '\u0394p', SI(20), K, 'center');
T(1307, 885, ')', S(22), K, 'center');
Ln(1244.2, 914.3, 1315.6, 914.3, K, 1.4);
Rt(1279.9, 934, [['d', SI(22), K], ['(ln ', S(22), K], ['t', SI(22), K], ['c', S(11), K, 5], [')', S(22), K]], 'center');

T(691.6, 962.7, 'Integral-Derivative (Normalized Rate)', A(24), RED, 'left', HEAD);
Rect(724, 993.5, 6, 8, K, 60);
T(740.6, 999.3, 'Smoothes the scatter of the derivative.', B(21), K, 'left', WIDE);
T(1170.2, 998.3, '\u2212', S(20), K, 'center');
T(1222, 982, 'd', SI(22), K, 'center');
Ln(1185.5, 998.3, 1264.6, 998.3, K, 1.4);
Rt(1224, 1016.7, [['d', SI(22), K], ['(ln ', S(22), K], ['t', SI(22), K], ['c', S(11), K, 5], [')', S(22), K]], 'center');
T(1272.2, 998.3, '(', S(24), K, 'center');
T(1288.6, 982, '1', S(22), K, 'center');
Ln(1281.4, 998.3, 1297.8, 998.3, K, 1.2);
Rt(1289, 1016.5, [['t', SI(22), K], ['c', S(11), K, 5]], 'center');
T(1308, 999, '\u222B', S(32), K, 'center');
Rt(1321, 984, [['t', SI(12), K], ['c', S(7), K, 3]], 'center');
T(1318.2, 1013.5, '0', S(12), K, 'center');
T(1350.5, 985, 'q', SI(22), K, 'center');
Ln(1336, 998.3, 1366.6, 998.3, K, 1.2);
T(1351.3, 1016.7, '\u0394p', SI(22), K, 'center');
T(1383, 998.3, 'dt)', SI(22), K, 'center');

chart.setOption({graphic: {elements: G}});
</script>
</body>
</html>
